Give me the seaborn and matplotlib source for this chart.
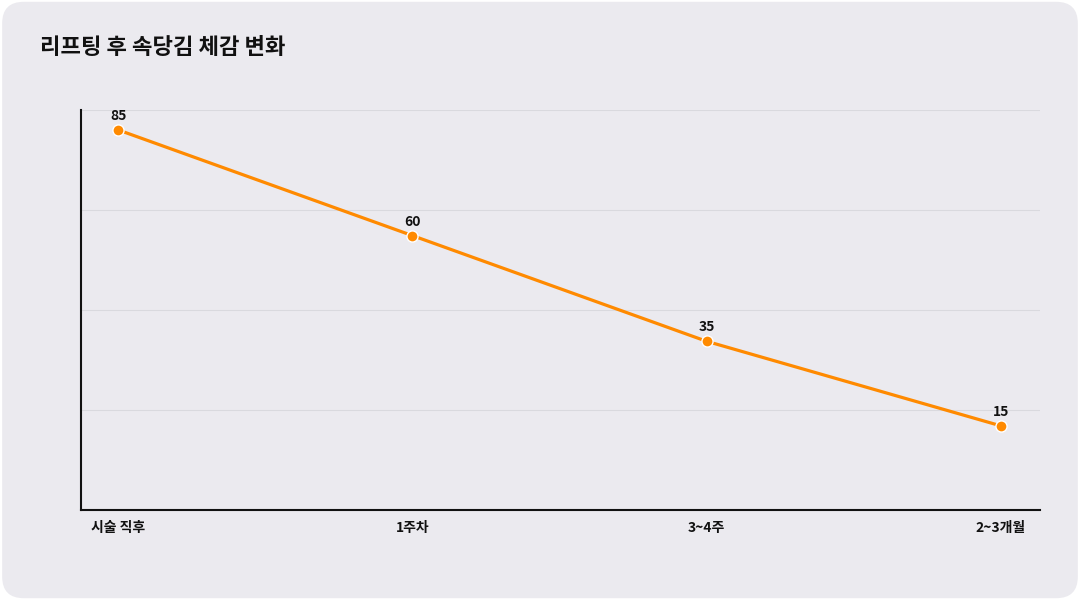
import matplotlib
matplotlib.use("Agg")
import matplotlib.pyplot as plt
import seaborn as sns
import pandas as pd
from matplotlib.patches import FancyBboxPatch

categories = ["시술 직후", "1주차", "3~4주", "2~3개월"]
values = [85, 60, 35, 15]
title = "리프팅 후 속당김 체감 변화"

sns.set_theme(style="white")
plt.rcParams['font.family'] = ['Noto Sans CJK KR', 'DejaVu Sans']

bg = "#ebeaef"
fig = plt.figure(figsize=(10.8, 6), dpi=100, facecolor="white")
fig.patches.append(FancyBboxPatch((0.002, 0.003), 0.996, 0.994,
    boxstyle="round,pad=0,rounding_size=0.02", transform=fig.transFigure,
    facecolor=bg, edgecolor="none", zorder=-10, mutation_aspect=1.8))
ax = fig.add_axes([81/1080, 90/600, (1040-81)/1080, 400/600])
ax.set_facecolor(bg)

df = pd.DataFrame({"x": range(len(categories)), "y": values})
sns.lineplot(data=df, x="x", y="y", ax=ax, color="#ff8a00", linewidth=2.3,
             marker="o", markersize=8, markeredgecolor="white", markeredgewidth=1)
for xi, v in zip(df["x"], values):
    ax.annotate(str(v), (xi, v), xytext=(0, 5), textcoords="offset points",
                ha="center", va="bottom", fontsize=10, fontweight="bold", color="#111111")

ax.set_xlim(-0.126, 3.133)
lo, hi = -4.9, 89.7
ax.set_ylim(lo, hi)
ax.set_yticks([lo + (hi - lo) * k / 4 for k in range(1, 5)])
ax.set_yticklabels([])
ax.tick_params(axis="y", length=0)
ax.grid(axis="y", color="#d9d9de", linewidth=0.8)
ax.set_xticks(range(len(categories)))
ax.set_xticklabels(categories, fontsize=10, fontweight="bold", color="#111111")
ax.tick_params(axis="x", length=0, pad=8)
ax.set_xlabel(""); ax.set_ylabel("")
for s in ["top", "right"]:
    ax.spines[s].set_visible(False)
for s in ["left", "bottom"]:
    ax.spines[s].set_color("#111111"); ax.spines[s].set_linewidth(1.5)

fig.text(40/1080, 1 - 48/600, title, fontsize=16, fontweight="bold",
         color="#111111", va="center", ha="left")
fig.savefig("out.png", dpi=100, facecolor="white")
